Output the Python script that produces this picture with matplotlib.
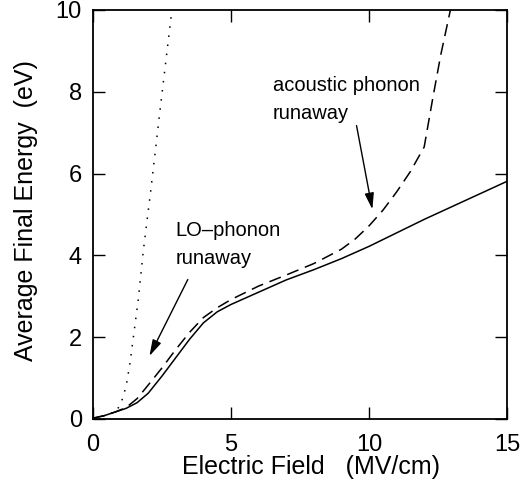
import matplotlib
matplotlib.use("Agg")
import matplotlib.pyplot as plt

plt.rcParams['font.family'] = ['Liberation Sans', 'DejaVu Sans']

# Solid curve
solid_x = [0, 0.4, 0.8, 1.2, 1.6, 2.0, 2.5, 3.0, 3.5, 4.0, 4.5, 5.0, 6.0, 7.0, 8.0, 9.0, 10.0, 11.0, 12.0, 13.0, 14.0, 15.0]
solid_y = [0.02, 0.08, 0.17, 0.26, 0.40, 0.63, 1.05, 1.50, 1.95, 2.35, 2.62, 2.80, 3.10, 3.40, 3.65, 3.92, 4.22, 4.55, 4.88, 5.19, 5.50, 5.81]
# Dashed curve
dash_x = [0, 0.4, 0.8, 1.2, 1.6, 2.0, 2.5, 3.0, 3.5, 4.0, 4.5, 5.0, 6.0, 7.0, 8.0, 9.0, 9.5, 10.0, 10.5, 11.0, 11.5, 12.0, 12.3, 12.6, 12.95]
dash_y = [0.02, 0.08, 0.17, 0.28, 0.50, 0.83, 1.25, 1.70, 2.12, 2.48, 2.72, 2.92, 3.25, 3.52, 3.80, 4.15, 4.40, 4.72, 5.10, 5.55, 6.05, 6.65, 7.80, 8.90, 10.0]
# Dotted curve
dot_x = [0, 0.4, 0.8, 1.0, 1.2, 1.34, 1.64, 1.82, 2.09, 2.43, 2.85]
dot_y = [0.02, 0.08, 0.17, 0.35, 0.80, 1.37, 2.92, 4.10, 5.57, 7.56, 9.95]

x_ticks = [0, 5, 10, 15]
y_ticks = [0, 2, 4, 6, 8, 10]

fig = plt.figure(figsize=(5.27, 4.92), dpi=100)
ax = fig.add_axes([0.1765, 0.1484, 0.7855, 0.8313])

lw = 1.1
ax.plot(solid_x, solid_y, color='black', lw=lw, ls='-')
ax.plot(dash_x, dash_y, color='black', lw=lw, ls=(0, (8, 4.5)))
ax.plot(dot_x, dot_y, color='black', lw=lw, ls=(0, (1, 5)))

ax.set_xlim(0, 15)
ax.set_ylim(0, 10)
ax.set_xticks(x_ticks)
ax.set_yticks(y_ticks)
ax.tick_params(direction='in', length=8.5, width=1.0, labelsize=17,
               top=True, right=True)
ax.tick_params(axis='x', pad=11)
ax.tick_params(axis='y', pad=8)
for s in ax.spines.values():
    s.set_linewidth(1.3)

ax.set_xlabel('Electric Field   (MV/cm)', fontsize=18)
ax.xaxis.set_label_coords(0.527, -0.088)
ax.set_ylabel('Average Final Energy  (eV)', fontsize=18)
ax.yaxis.set_label_coords(-0.133, 0.51)

ax.text(6.52, 8.38, 'acoustic phonon\nrunaway', fontsize=14.5, ha='left', va='top', linespacing=1.6)
ax.annotate('', xy=(10.14, 5.06), xytext=(9.53, 7.24),
            arrowprops=dict(arrowstyle='-|>,head_length=0.7,head_width=0.2', color='black', lw=1.0, mutation_scale=14))
ax.text(3.0, 4.85, 'LO\u2013phonon\nrunaway', fontsize=14.5, ha='left', va='top', linespacing=1.6)
ax.annotate('', xy=(2.0, 1.48), xytext=(3.48, 3.47),
            arrowprops=dict(arrowstyle='-|>,head_length=0.7,head_width=0.2', color='black', lw=1.0, mutation_scale=14))

fig.savefig('out.png', dpi=100)
